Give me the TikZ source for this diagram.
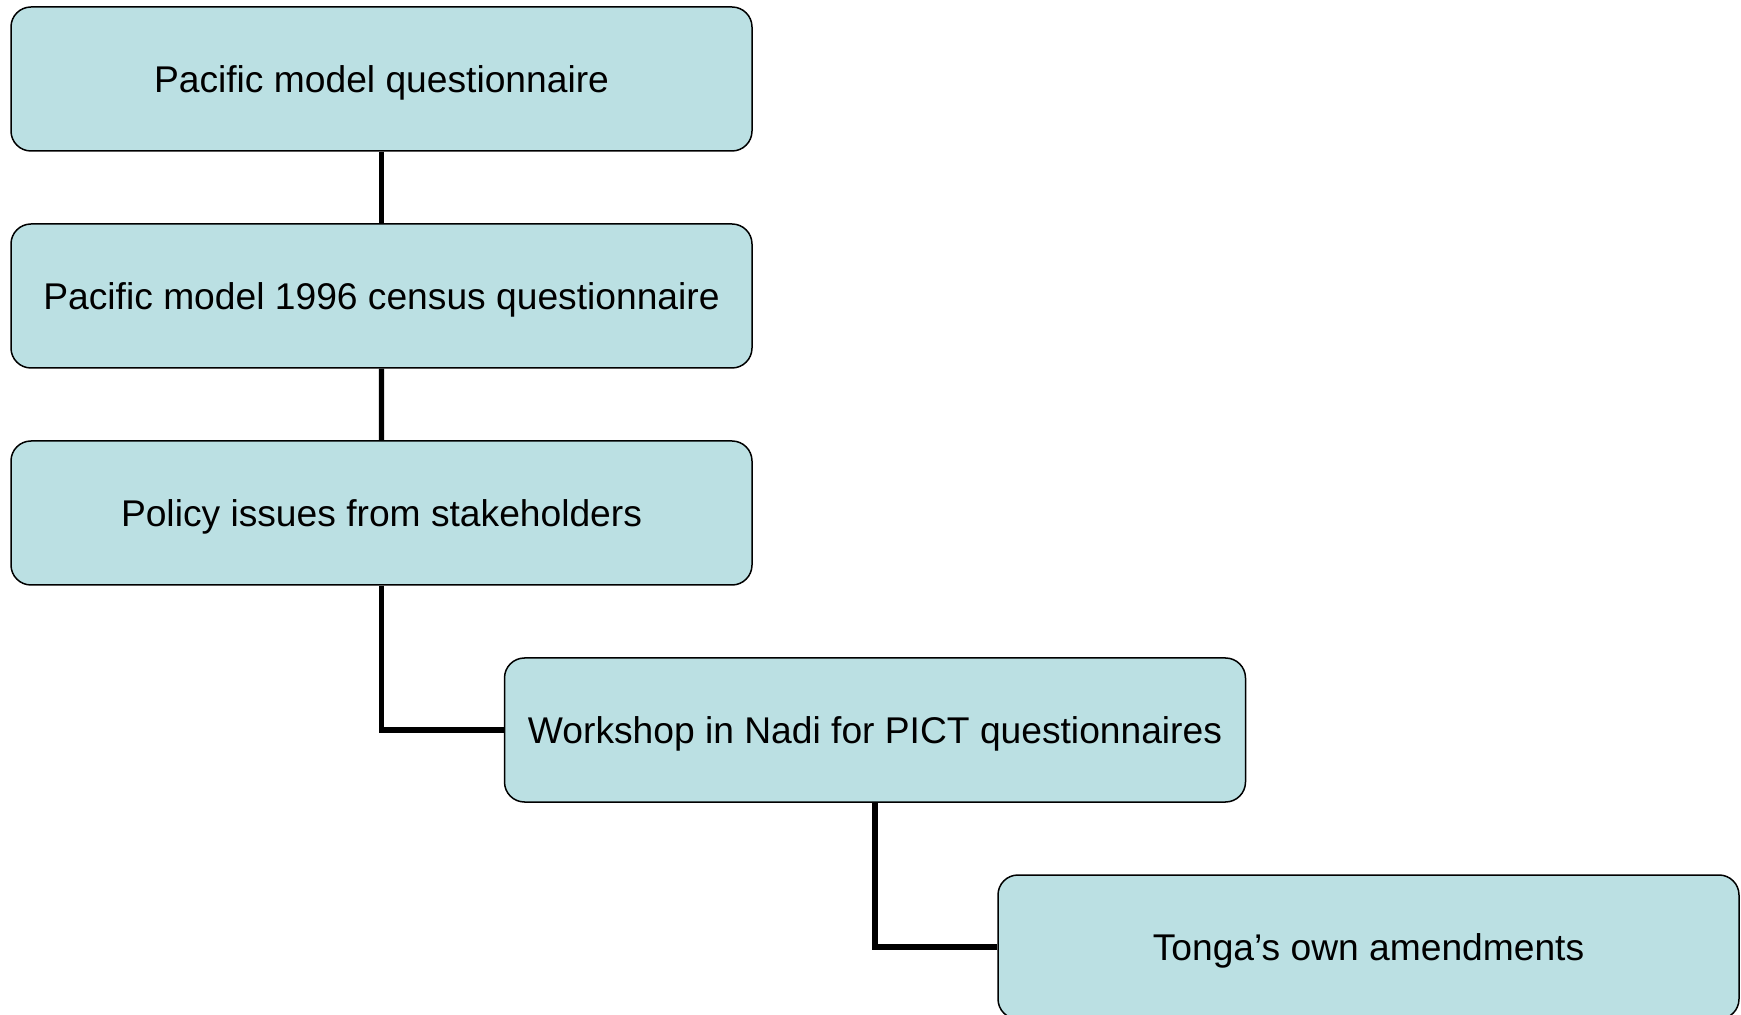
\documentclass[tikz,border=0pt]{standalone}
\usepackage{fontspec}
\setmainfont{Liberation Sans}
\definecolor{boxfill}{RGB}{187,224,227}
\begin{document}
\begin{tikzpicture}[x=0.5pt, y=0.5pt,
  box/.style={draw, line width=0.75pt, fill=boxfill, rounded corners=10pt,
    minimum width=370.5pt, minimum height=72pt, text depth=0pt,
    font=\fontsize{18.6}{22}\selectfont},
  level distance=108.5pt,
  edge from parent/.style={draw, line width=2.6pt},
  elbow/.style={xshift=246.75pt,
    edge from parent path={(\tikzparentnode.south) |- (\tikzchildnode.west)}}]
  \useasboundingbox (0,0) rectangle (1741,-1015);
  \node[box] (model) at (381.5,-79) {Pacific model questionnaire}
    child {node[box] (census) {Pacific model 1996 census questionnaire}
      child {node[box] (policy) {Policy issues from stakeholders}
        child[elbow] {node[box] (workshop) {Workshop in Nadi for PICT questionnaires}
          child[elbow] {node[box] (tonga) {Tonga’s own amendments}}
        }
      }
    };
\end{tikzpicture}
\end{document}
